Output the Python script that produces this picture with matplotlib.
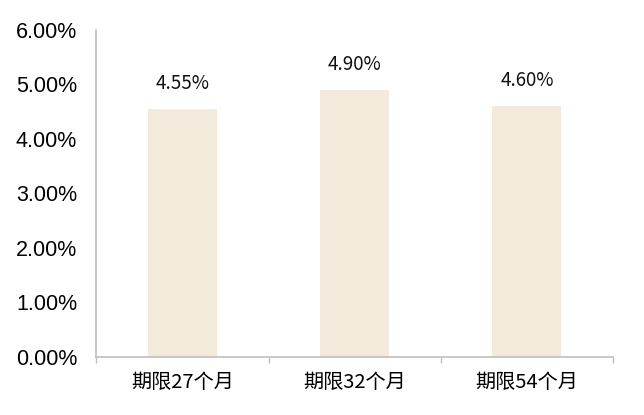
import matplotlib
matplotlib.use("Agg")
import matplotlib.pyplot as plt
from matplotlib.ticker import FuncFormatter, FixedLocator, NullFormatter

categories = ["期限27个月", "期限32个月", "期限54个月"]
values = [4.55, 4.90, 4.60]
value_labels = ["4.55%", "4.90%", "4.60%"]
yticks = [0, 1, 2, 3, 4, 5, 6]

plt.rcParams['font.family'] = ['Noto Sans CJK SC', 'DejaVu Sans']

fig = plt.figure(figsize=(6.44, 4.15), dpi=100)
ax = fig.add_axes([0.1498, 0.1405, 0.9519 - 0.1498, 0.9277 - 0.1405])

x = list(range(len(categories)))
ax.bar(x, values, width=0.40, color="#F2EADB", zorder=2)

for xi, v, lab in zip(x, values, value_labels):
    ax.annotate(lab, (xi, v), xytext=(0, 18.4), textcoords="offset points",
                ha="center", va="center", fontsize=13.5, color="#111111",
                family=['Noto Sans CJK SC', 'DejaVu Sans'])

ax.set_xlim(-0.5, len(categories) - 0.5)
ax.set_ylim(0, 6)
ax.set_yticks(yticks)
ax.yaxis.set_major_formatter(FuncFormatter(lambda v, p: f"{v:.2f}%"))
for t in ax.get_yticklabels():
    t.set_fontfamily(['Liberation Sans', 'DejaVu Sans'])
    t.set_fontsize(15.5)
ax.tick_params(axis='y', length=0, pad=14)

# x: category labels at centers (minor), tick marks at boundaries (major)
ax.xaxis.set_major_locator(FixedLocator([-0.5, 0.5, 1.5, 2.5]))
ax.xaxis.set_major_formatter(NullFormatter())
ax.xaxis.set_minor_locator(FixedLocator(x))
ax.set_xticklabels(categories, minor=True)
ax.tick_params(axis='x', which='major', length=4.3, color="#BFBFBF", width=1.0, direction='out')
ax.tick_params(axis='x', which='minor', length=0, pad=11, labelsize=14.5)

for s in ["top", "right"]:
    ax.spines[s].set_visible(False)
for s in ["left", "bottom"]:
    ax.spines[s].set_color("#BFBFBF")
    ax.spines[s].set_linewidth(1.2)

fig.savefig("out.png", dpi=100)
